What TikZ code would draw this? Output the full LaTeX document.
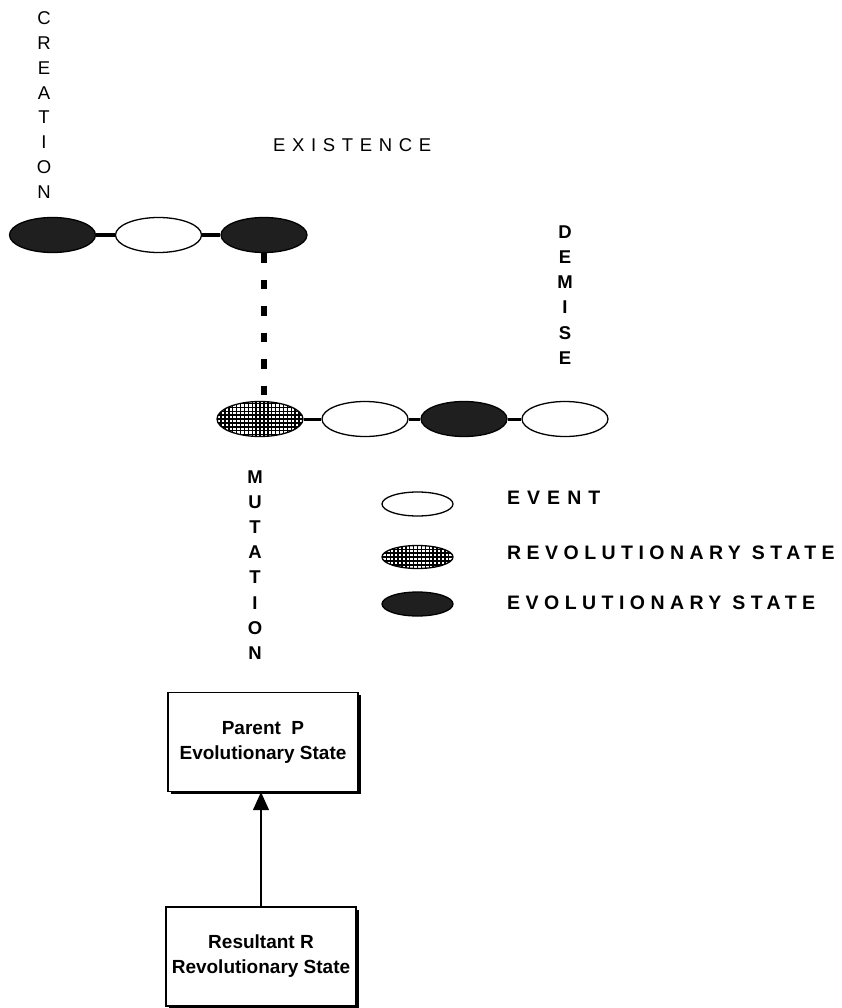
\documentclass[tikz,border=0pt]{standalone}
\usepackage{fontspec}
\setmainfont{Liberation Sans}
\newfontfamily\tracked[LetterSpace=28]{Liberation Sans}
\newfontfamily\trackedwide[LetterSpace=36]{Liberation Sans}
\usetikzlibrary{shapes.geometric, arrows.meta, shadows}

\tikzset{
  evt/.style={ellipse, draw=black, line width=1.3pt, fill=white, inner sep=0pt,
              minimum width=86pt, minimum height=35pt},
  evo/.style={evt, fill=black!88},
  rev/.style={evt, path picture={
      \draw[black, line width=1.4pt, step=3.9pt]
        (path picture bounding box.south west) grid (path picture bounding box.north east);}},
  legevt/.style={evt, minimum width=71pt, minimum height=24pt},
  legrev/.style={rev, minimum width=71pt, minimum height=23pt},
  legevo/.style={evo, minimum width=71pt, minimum height=24pt},
  link/.style={line width=3pt},
  vlabel/.style={align=center, inner sep=0pt, font=\fontsize{18.5pt}{24.9pt}\selectfont},
  vlabelbold/.style={vlabel, font=\bfseries\fontsize{18.5pt}{25.1pt}\selectfont},
  legtext/.style={anchor=west, inner sep=0pt, font=\tracked\bfseries\fontsize{19.5pt}{22pt}\selectfont},
  statebox/.style={draw=black, line width=1.3pt, fill=white, align=center,
      minimum width=190pt, minimum height=99pt, inner sep=0pt,
      font=\bfseries\fontsize{19pt}{25pt}\selectfont,
      drop shadow={shadow xshift=2.5pt, shadow yshift=-2.5pt, fill=black, opacity=1}},
}

\begin{document}
\begin{tikzpicture}[x=1pt, y=-1pt]
\useasboundingbox (0,0) rectangle (841,1008);

% phase labels
\node[vlabel] (creation) at (44,105) {C\\R\\E\\A\\T\\I\\O\\N};
\node[anchor=west, inner sep=0pt, font=\trackedwide\fontsize{18.5pt}{20pt}\selectfont]
  (existence) at (273,145) {EXISTENCE};
\node[vlabelbold] (demise) at (565,295) {D\\E\\M\\I\\S\\E};
\node[vlabelbold] (mutation) at (255,565) {M\\U\\T\\A\\T\\I\\O\\N};

% first life line
\node[evo] (a1) at (52.5,235) {};
\node[evt] (a2) at (158.5,235) {};
\node[evo] (a3) at (264,235) {};
\draw[link] (a1.east) -- (a2.west);
\draw[link] (a2.east) -- (a3.west);

% second life line
\node[rev] (b1) at (260,419) {};
\node[evt] (b2) at (365,419) {};
\node[evo] (b3) at (464,419) {};
\node[evt] (b4) at (565,419) {};
\draw[link] (b1.east) -- (b2.west);
\draw[link] (b2.east) -- (b3.west);
\draw[link] (b3.east) -- (b4.west);

% mutation link
\draw[line width=5.5pt, dash pattern=on 9.5pt off 17pt] (a3.south) -- (a3.south |- b1.north);

% legend
\node[legevt] (k1) at (417.5,504) {};
\node[legrev] (k2) at (417.5,557) {};
\node[legevo] (k3) at (417.5,604) {};
\node[legtext, font=\trackedwide\bfseries\fontsize{19.5pt}{22pt}\selectfont] (t1) at (507,498) {EVENT};
\node[legtext] (t2) at (507,553) {REVOLUTIONARY STATE};
\node[legtext] (t3) at (507,603) {EVOLUTIONARY STATE};

% parent / resultant boxes
\node[statebox] (parent) at (263,742) {Parent\ \ P\\Evolutionary State};
\node[statebox] (result) at (261,956.5) {Resultant R\\Revolutionary State};
\draw[line width=1.2pt, -{Triangle[width=16pt, length=18pt]}]
  (result.north) -- (result.north |- parent.south);
\end{tikzpicture}
\end{document}
